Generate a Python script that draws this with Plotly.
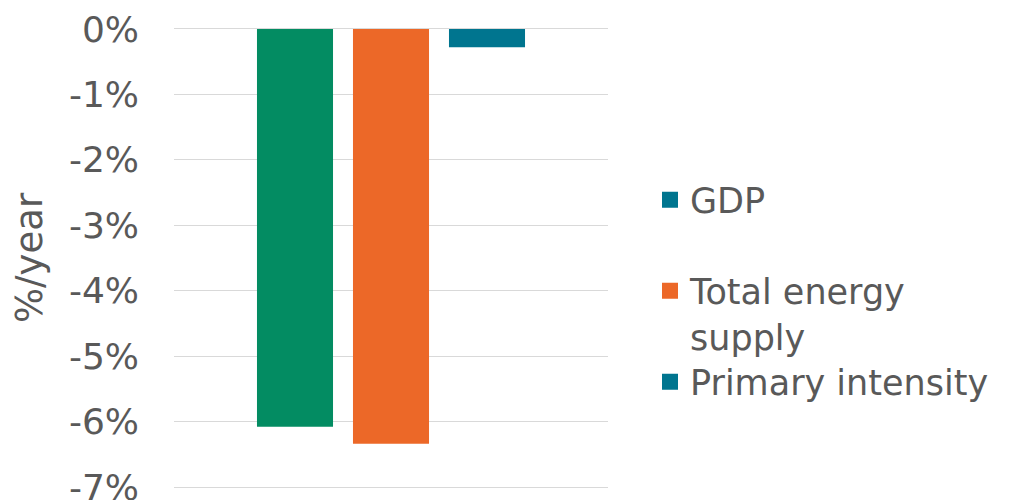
import plotly.graph_objects as go

categories = ["Change"]
series_names = ["GDP", "Total energy supply", "Primary intensity"]
legend_labels = ["GDP", "Total energy<br>supply", "Primary intensity"]
gdp = [-6.08]
total_energy_supply = [-6.34]
primary_intensity = [-0.28]
bar_colors = ["#038C62", "#EC6828", "#00758F"]
legend_colors = ["#00758F", "#EC6828", "#00758F"]
y_ticks = [0, -1, -2, -3, -4, -5, -6, -7]
y_tick_labels = ["0%", "-1%", "-2%", "-3%", "-4%", "-5%", "-6%", "-7%"]

TEXT = "#595959"
FONT = "DejaVu Sans"
OFF = 8  # page body margin offset

fig = go.Figure()
for name, vals, col in zip(series_names, [gdp, total_energy_supply, primary_intensity], bar_colors):
    fig.add_trace(go.Bar(x=categories, y=vals, name=name, marker=dict(color=col, line=dict(width=0)),
                         showlegend=False))

legend_ids = ["legend", "legend2", "legend3"]
for lab, col, lid in zip(legend_labels, legend_colors, legend_ids):
    fig.add_trace(go.Scatter(x=[None], y=[None], mode="markers", name=lab,
                             marker=dict(symbol="square", size=16, color=col),
                             showlegend=True, legend=lid))

leg_common = dict(xref="container", yref="container", xanchor="left", yanchor="middle",
                  font=dict(family=FONT, size=35, color=TEXT), bgcolor="rgba(0,0,0,0)",
                  itemsizing="trace")
lx = (650 - OFF) / 1012
fig.update_layout(
    width=1012, height=500,
    margin=dict(l=174 - OFF, r=404 + OFF, t=27 - OFF, b=11 + OFF, autoexpand=False),
    paper_bgcolor="white", plot_bgcolor="white",
    barmode="group", bargap=0.3364, bargroupgap=0.208,
    font=dict(family=FONT, color=TEXT),
    legend=dict(x=lx, y=1 - (200 - OFF) / 500, **leg_common),
    legend2=dict(x=lx, y=1 - (313.5 - OFF) / 500, valign="top", **leg_common),
    legend3=dict(x=lx, y=1 - (382 - OFF) / 500, **leg_common),
    xaxis=dict(showticklabels=False, showgrid=False, zeroline=False, showline=False,
               range=[-0.5, 0.5], automargin=False),
    yaxis=dict(range=[-7.03, 0.03], tickvals=y_ticks, ticktext=y_tick_labels,
               showgrid=True, gridcolor="#D9D9D9", gridwidth=1.3,
               zeroline=False, showline=False, automargin=False,
               tickfont=dict(family=FONT, size=36, color=TEXT),
               ticklabelstandoff=34,
               title=dict(text="%/year", font=dict(family=FONT, size=37, color=TEXT), standoff=16)),
)
fig.write_html("out.html")
